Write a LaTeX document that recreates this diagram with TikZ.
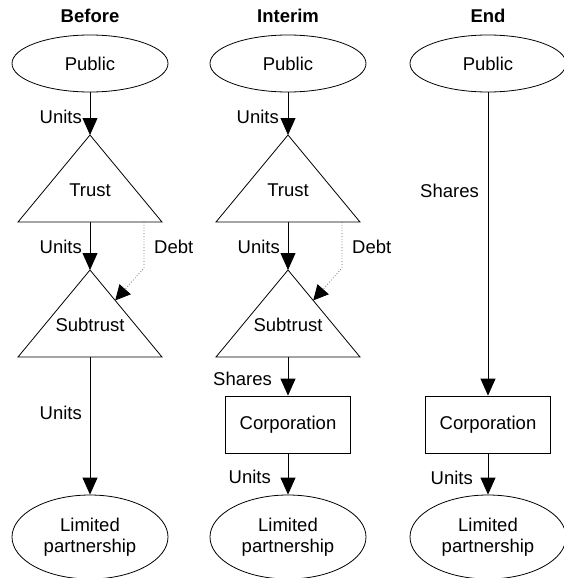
\documentclass[tikz,border=0pt]{standalone}
\usepackage{fontspec}
\setmainfont{Liberation Sans}
\usetikzlibrary{shapes.geometric,arrows.meta,calc}

\tikzset{
  line/.style={draw=black, line width=0.8pt},
  txt/.style={font=\fontsize{18.5}{21}\selectfont, inner sep=0pt, align=center},
  heading/.style={txt, font=\fontsize{18.5}{21}\selectfont\bfseries},
  lbl/.style={txt},
  oval/.style={line, txt, shape=ellipse, minimum width=156pt, minimum height=57pt},
  bigoval/.style={oval, minimum height=84pt},
  box/.style={line, txt, rectangle, minimum width=125pt, minimum height=57pt},
  arr/.style={line, -{Triangle[length=17pt,width=15pt]}},
  debtarr/.style={draw=black!60, line width=0.8pt, dotted,
    -{Triangle[length=15pt,width=15pt,color=black]}},
  % trust-like entity: apex at the pic origin, base 87 below
  tri/.pic={
    \draw[line] (0,0) coordinate (-apex) -- (72,87) coordinate (-r)
                -- (-72,87) coordinate (-l) -- cycle;
    \coordinate (-base) at (0,87);
    \coordinate (-debt) at (54,87);
    \node[txt] (-label) at (0,55) {#1};
  }
}

\begin{document}
\begin{tikzpicture}[x=1pt, y=-1pt]
\useasboundingbox (0,0) rectangle (563,578);

% ---------- Before ----------
\node[heading] (h1) at (90,16) {Before};
\node[oval] (pub1) at (90,63.5) {Public};
\pic (trust1) at (90,135) {tri=Trust};
\pic (sub1) at (90,270) {tri=Subtrust};
\node[bigoval] (lp1) at (90,537) {Limited\\partnership};

\draw[arr] (pub1) -- (trust1-apex);
\draw[arr] (trust1-base) -- (sub1-apex);
\draw[arr] (sub1-base) -- (lp1);
\draw[debtarr] (trust1-debt) -- ++(0,46) -- ($(sub1-apex)!0.35!(sub1-r)$);

\node[lbl, anchor=east] (u1a) at (82,117) {Units};
\node[lbl, anchor=east] (u1b) at (82,247) {Units};
\node[lbl, anchor=east] (u1c) at (82,413) {Units};
\node[lbl, anchor=west] (d1) at (154,247) {Debt};

% ---------- Interim ----------
\node[heading] (h2) at (288,16) {Interim};
\node[oval] (pub2) at (288,63.5) {Public};
\pic (trust2) at (288,135) {tri=Trust};
\pic (sub2) at (288,270) {tri=Subtrust};
\node[box] (corp2) at (288,424.5) {Corporation};
\node[bigoval] (lp2) at (288,537) {Limited\\partnership};

\draw[arr] (pub2) -- (trust2-apex);
\draw[arr] (trust2-base) -- (sub2-apex);
\draw[arr] (sub2-base) -- (corp2);
\draw[arr] (corp2) -- (lp2);
\draw[debtarr] (trust2-debt) -- ++(0,46) -- ($(sub2-apex)!0.35!(sub2-r)$);

\node[lbl, anchor=east] (u2a) at (279,117) {Units};
\node[lbl, anchor=east] (u2b) at (280,247) {Units};
\node[lbl, anchor=west] (d2) at (352,247) {Debt};
\node[lbl, anchor=east] (s2) at (272,379) {Shares};
\node[lbl, anchor=east] (u2c) at (271,477) {Units};

% ---------- End ----------
\node[heading] (h3) at (488,16) {End};
\node[oval] (pub3) at (488,63.5) {Public};
\node[box] (corp3) at (488,424.5) {Corporation};
\node[bigoval] (lp3) at (488,537) {Limited\\partnership};

\draw[arr] (pub3) -- (corp3);
\draw[arr] (corp3) -- (lp3);

\node[lbl, anchor=east] (s3) at (479,191) {Shares};
\node[lbl, anchor=east] (u3) at (473,478) {Units};
\end{tikzpicture}
\end{document}
